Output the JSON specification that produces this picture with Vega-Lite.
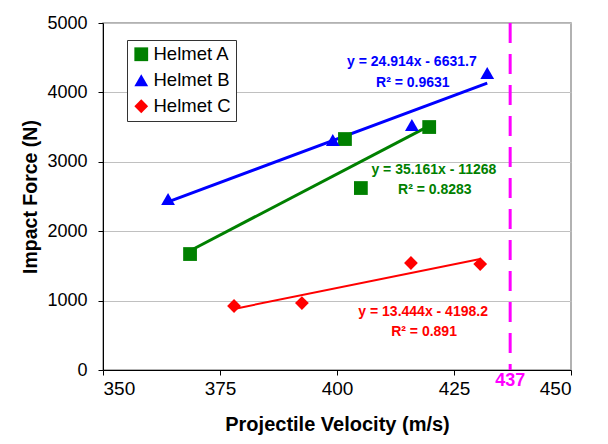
{
  "$schema": "https://vega.github.io/schema/vega-lite/v6.json",
  "autosize": "none",
  "width": 468,
  "height": 347,
  "padding": {"left": 103, "top": 23, "right": 37, "bottom": 74},
  "background": "white",
  "config": {
    "font": "Liberation Sans",
    "view": {"stroke": "#999999", "strokeWidth": 1.5},
    "axis": {"labelFont": "Liberation Sans", "titleFont": "Liberation Sans", "labelColor": "black", "titleColor": "black", "domainColor": "black", "tickColor": "black", "labelFontSize": 18, "titleFontSize": 20, "titleFontWeight": "bold", "tickSize": 5, "domainWidth": 1, "tickWidth": 1},
    "legend": {"symbolStrokeWidth": 0}
  },
  "datasets": {
    "pts": [
      {"helmet": "Helmet A", "velocity": 368.6, "force": 1671},
      {"helmet": "Helmet A", "velocity": 401.7, "force": 3328},
      {"helmet": "Helmet A", "velocity": 405.1, "force": 2622},
      {"helmet": "Helmet A", "velocity": 419.7, "force": 3501},
      {"helmet": "Helmet B", "velocity": 363.9, "force": 2464},
      {"helmet": "Helmet B", "velocity": 399.1, "force": 3314},
      {"helmet": "Helmet B", "velocity": 416.0, "force": 3530},
      {"helmet": "Helmet B", "velocity": 432.1, "force": 4280},
      {"helmet": "Helmet C", "velocity": 378.0, "force": 922},
      {"helmet": "Helmet C", "velocity": 392.5, "force": 965},
      {"helmet": "Helmet C", "velocity": 415.8, "force": 1542},
      {"helmet": "Helmet C", "velocity": 430.6, "force": 1527}
    ],
    "labels": [
      {"helmet": "Helmet B", "velocity": 416.0, "force": 4438, "text": "y = 24.914x - 6631.7"},
      {"helmet": "Helmet B", "velocity": 416.2, "force": 4135, "text": "R² = 0.9631"},
      {"helmet": "Helmet A", "velocity": 420.7, "force": 2882, "text": "y = 35.161x - 11268"},
      {"helmet": "Helmet A", "velocity": 420.9, "force": 2594, "text": "R² = 0.8283"},
      {"helmet": "Helmet C", "velocity": 418.4, "force": 836, "text": "y = 13.444x - 4198.2"},
      {"helmet": "Helmet C", "velocity": 418.6, "force": 548, "text": "R² = 0.891"}
    ],
    "limit": [{"velocity": 437, "label": "437"}]
  },
  "layer": [
    {
      "data": {"name": "pts"},
      "transform": [{"filter": "datum.helmet === 'Helmet A'"}, {"regression": "force", "on": "velocity"}],
      "mark": {"type": "line", "color": "#008000", "strokeWidth": 3},
      "encoding": {
        "x": {"field": "velocity", "type": "quantitative"},
        "y": {"field": "force", "type": "quantitative"}
      }
    },
    {
      "data": {"name": "pts"},
      "transform": [{"filter": "datum.helmet === 'Helmet B'"}, {"regression": "force", "on": "velocity"}],
      "mark": {"type": "line", "color": "#0000ff", "strokeWidth": 3},
      "encoding": {
        "x": {"field": "velocity", "type": "quantitative"},
        "y": {"field": "force", "type": "quantitative"}
      }
    },
    {
      "data": {"name": "pts"},
      "transform": [{"filter": "datum.helmet === 'Helmet C'"}, {"regression": "force", "on": "velocity"}],
      "mark": {"type": "line", "color": "#ff0000", "strokeWidth": 2},
      "encoding": {
        "x": {"field": "velocity", "type": "quantitative"},
        "y": {"field": "force", "type": "quantitative"}
      }
    },
    {
      "data": {"name": "pts"},
      "mark": {"type": "point", "filled": true, "size": 190, "opacity": 1},
      "encoding": {
        "x": {
          "field": "velocity", "type": "quantitative",
          "scale": {"domain": [350, 450], "nice": false, "zero": false},
          "axis": {"values": [350, 375, 400, 425, 450], "grid": false, "title": "Projectile Velocity (m/s)", "labelFontSize": 19, "labelPadding": 4, "titlePadding": 16, "format": "d"}
        },
        "y": {
          "field": "force", "type": "quantitative",
          "scale": {"domain": [0, 5000], "nice": false},
          "axis": {"values": [0, 1000, 2000, 3000, 4000, 5000], "grid": true, "gridColor": "#c0c0c0", "title": "Impact Force (N)", "titleFontSize": 19.5, "labelPadding": 11, "titlePadding": 6, "format": "d"}
        },
        "color": {
          "field": "helmet", "type": "nominal",
          "scale": {"domain": ["Helmet A", "Helmet B", "Helmet C"], "range": ["#008000", "#0000ff", "#ff0000"]},
          "legend": {"title": null, "orient": "none", "legendX": 24, "legendY": 17, "strokeColor": "#333333", "fillColor": "white", "padding": 5, "rowPadding": 7, "labelFontSize": 18.5, "labelFont": "Liberation Sans", "labelColor": "black", "symbolSize": 190, "symbolStrokeWidth": 0, "labelOffset": 3}
        },
        "shape": {
          "field": "helmet", "type": "nominal",
          "scale": {"domain": ["Helmet A", "Helmet B", "Helmet C"], "range": ["square", "triangle-up", "diamond"]},
          "legend": {"title": null, "orient": "none", "legendX": 24, "legendY": 17, "strokeColor": "#333333", "fillColor": "white", "padding": 5, "rowPadding": 7, "labelFontSize": 18.5, "labelFont": "Liberation Sans", "labelColor": "black", "symbolSize": 190, "symbolStrokeWidth": 0, "labelOffset": 3}
        }
      }
    },
    {
      "data": {"name": "labels"},
      "mark": {"type": "text", "fontWeight": "bold", "fontSize": 14, "align": "center", "baseline": "middle"},
      "encoding": {
        "x": {"field": "velocity", "type": "quantitative"},
        "y": {"field": "force", "type": "quantitative"},
        "text": {"field": "text"},
        "color": {"field": "helmet", "type": "nominal"}
      }
    },
    {
      "data": {"name": "limit"},
      "mark": {"type": "rule", "color": "#ff00ff", "strokeWidth": 3, "strokeDash": [20, 11]},
      "encoding": {
        "x": {"field": "velocity", "type": "quantitative"}
      }
    },
    {
      "data": {"name": "limit"},
      "mark": {"type": "text", "color": "#ff00ff", "fontWeight": "bold", "fontSize": 18, "align": "center", "baseline": "top", "dy": 2},
      "encoding": {
        "x": {"field": "velocity", "type": "quantitative"},
        "y": {"datum": 0, "type": "quantitative"},
        "text": {"field": "label"}
      }
    }
  ]
}
